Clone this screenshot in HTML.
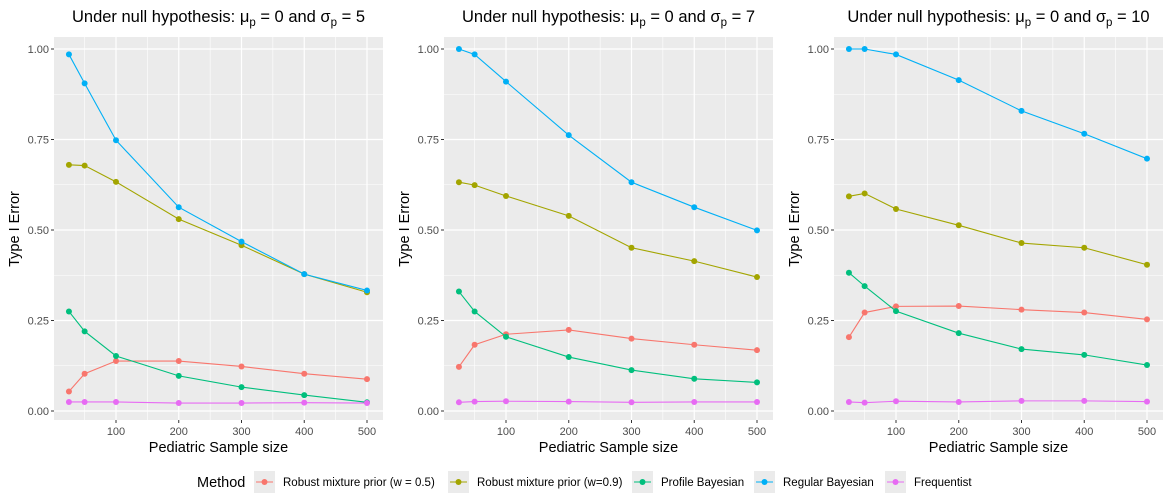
<!DOCTYPE html>
<html><head><meta charset="utf-8"><style>
body{margin:0;background:#fff;}
svg{display:block;font-family:"Liberation Sans",sans-serif;}
</style></head><body>
<svg id="chart" width="1170" height="500"></svg>
<script>
const xVals=[25,50,100,200,300,400,500];
const xTicks=[100,200,300,400,500];
const yTicks=[0,0.25,0.5,0.75,1.0];
const yTickLabels=["0.00","0.25","0.50","0.75","1.00"];
const panelTitles=["5","7","10"];
const methods=["Robust mixture prior (w = 0.5)","Robust mixture prior (w=0.9)","Profile Bayesian","Regular Bayesian","Frequentist"];
const colors=["#F8766D","#A3A500","#00BF7D","#00B0F6","#E76BF3"];
const p1Red=[0.054,0.103,0.138,0.138,0.123,0.103,0.088];
const p1Olive=[0.680,0.678,0.633,0.530,0.458,0.378,0.328];
const p1Green=[0.275,0.220,0.152,0.097,0.066,0.044,0.024];
const p1Blue=[0.985,0.905,0.748,0.563,0.468,0.378,0.333];
const p1Mag=[0.025,0.025,0.025,0.022,0.022,0.023,0.022];
const p2Red=[0.122,0.183,0.212,0.224,0.200,0.183,0.168];
const p2Olive=[0.632,0.624,0.594,0.539,0.451,0.414,0.370];
const p2Green=[0.330,0.275,0.205,0.149,0.113,0.089,0.079];
const p2Blue=[1.0,0.985,0.910,0.762,0.632,0.563,0.499];
const p2Mag=[0.024,0.026,0.027,0.026,0.024,0.025,0.025];
const p3Red=[0.204,0.272,0.289,0.290,0.280,0.272,0.253];
const p3Olive=[0.593,0.601,0.558,0.513,0.464,0.451,0.404];
const p3Green=[0.382,0.345,0.276,0.215,0.171,0.155,0.127];
const p3Blue=[1.0,1.0,0.985,0.914,0.829,0.766,0.697];
const p3Mag=[0.025,0.023,0.027,0.025,0.028,0.028,0.026];
const panelsData=[[p1Red,p1Olive,p1Green,p1Blue,p1Mag],[p2Red,p2Olive,p2Green,p2Blue,p2Mag],[p3Red,p3Olive,p3Green,p3Blue,p3Mag]];

const NS="http://www.w3.org/2000/svg";
const svg=document.getElementById('chart');
function mk(tag,attrs,parent,text){const e=document.createElementNS(NS,tag);for(const k in attrs)e.setAttribute(k,attrs[k]);if(text!==undefined)e.textContent=text;(parent||svg).appendChild(e);return e;}
const lefts=[54,444,834];
const PW=329,PT=37,PB=420;
function yS(v){return 411-v*(411-49);}
panelsData.forEach((series,pi)=>{
  const L=lefts[pi];
  const xS=v=>L+62+(v-100)*(251/400);
  const g=mk('g',{});
  
  
  const bg=mk('rect',{x:L,y:PT,width:PW,height:PB-PT,fill:'#EBEBEB'},g);
  
  
  [0.125,0.375,0.625,0.875].forEach(v=>mk('line',{x1:L,x2:L+PW,y1:yS(v),y2:yS(v),stroke:'#fff','stroke-width':0.6},g));
  [50,150,250,350,450].forEach(v=>mk('line',{x1:xS(v),x2:xS(v),y1:PT,y2:PB,stroke:'#fff','stroke-width':0.6},g));
  yTicks.forEach((v,i)=>{
    mk('line',{x1:L,x2:L+PW,y1:yS(v),y2:yS(v),stroke:'#fff','stroke-width':1.2},g);
    mk('line',{x1:L-3,x2:L,y1:yS(v),y2:yS(v),stroke:'#333','stroke-width':1},g);
    const t=mk('text',{x:L-5,y:yS(v)+4,'text-anchor':'end','font-size':11,fill:'#4D4D4D'},g,yTickLabels[i]);
    
    
  });
  xTicks.forEach(v=>{
    mk('line',{x1:xS(v),x2:xS(v),y1:PT,y2:PB,stroke:'#fff','stroke-width':1.2},g);
    mk('line',{x1:xS(v),x2:xS(v),y1:PB,y2:PB+3,stroke:'#333','stroke-width':1},g);
    const t=mk('text',{x:xS(v),y:PB+15,'text-anchor':'middle','font-size':11,fill:'#4D4D4D'},g,String(v));
    
    
  });
  series.forEach((vals,si)=>{
    const pts=vals.map((v,i)=>xS(xVals[i])+','+yS(v)).join(' ');
    const pl=mk('polyline',{points:pts,fill:'none',stroke:colors[si],'stroke-width':1.1},g);
    
    
    vals.forEach((v,i)=>{
      const c=mk('circle',{cx:xS(xVals[i]),cy:yS(v),r:3,fill:colors[si]},g);
      
      
    });
  });
  const tt=mk('text',{x:L+PW/2,y:22,'text-anchor':'middle','font-size':16.5,fill:'#000'},g);
  
  
  tt.innerHTML='Under null hypothesis: μ<tspan font-size="11.5" dy="4">p</tspan><tspan dy="-4"> = 0 and σ</tspan><tspan font-size="11.5" dy="4">p</tspan><tspan dy="-4"> = '+panelTitles[pi]+'</tspan>';
  const xt=mk('text',{x:L+PW/2,y:452,'text-anchor':'middle','font-size':14.5,fill:'#000'},g,'Pediatric Sample size');
  
  
  const yt=mk('text',{x:0,y:0,'text-anchor':'middle','font-size':14.5,fill:'#000',transform:'translate('+(L-35)+',229) rotate(-90)'},g,'Type I Error');
  
  
});
// legend
const LY=482;
const lg=mk('g',{});


const lt=mk('text',{x:197,y:LY+5,'font-size':14.5,fill:'#000'},lg,'Method');


const keyX=[254,448,632,754,885];
methods.forEach((m,i)=>{
  const e=mk('g',{},lg);
  
  
  mk('rect',{x:keyX[i],y:LY-11,width:21,height:22,fill:'#EBEBEB'},e);
  mk('line',{x1:keyX[i]+2,x2:keyX[i]+19,y1:LY,y2:LY,stroke:colors[i],'stroke-width':1.1},e);
  mk('circle',{cx:keyX[i]+10.5,cy:LY,r:3,fill:colors[i]},e);
  mk('text',{x:keyX[i]+29,y:LY+4,'font-size':11.5,fill:'#000'},e,m);
});
</script>
</body></html>
